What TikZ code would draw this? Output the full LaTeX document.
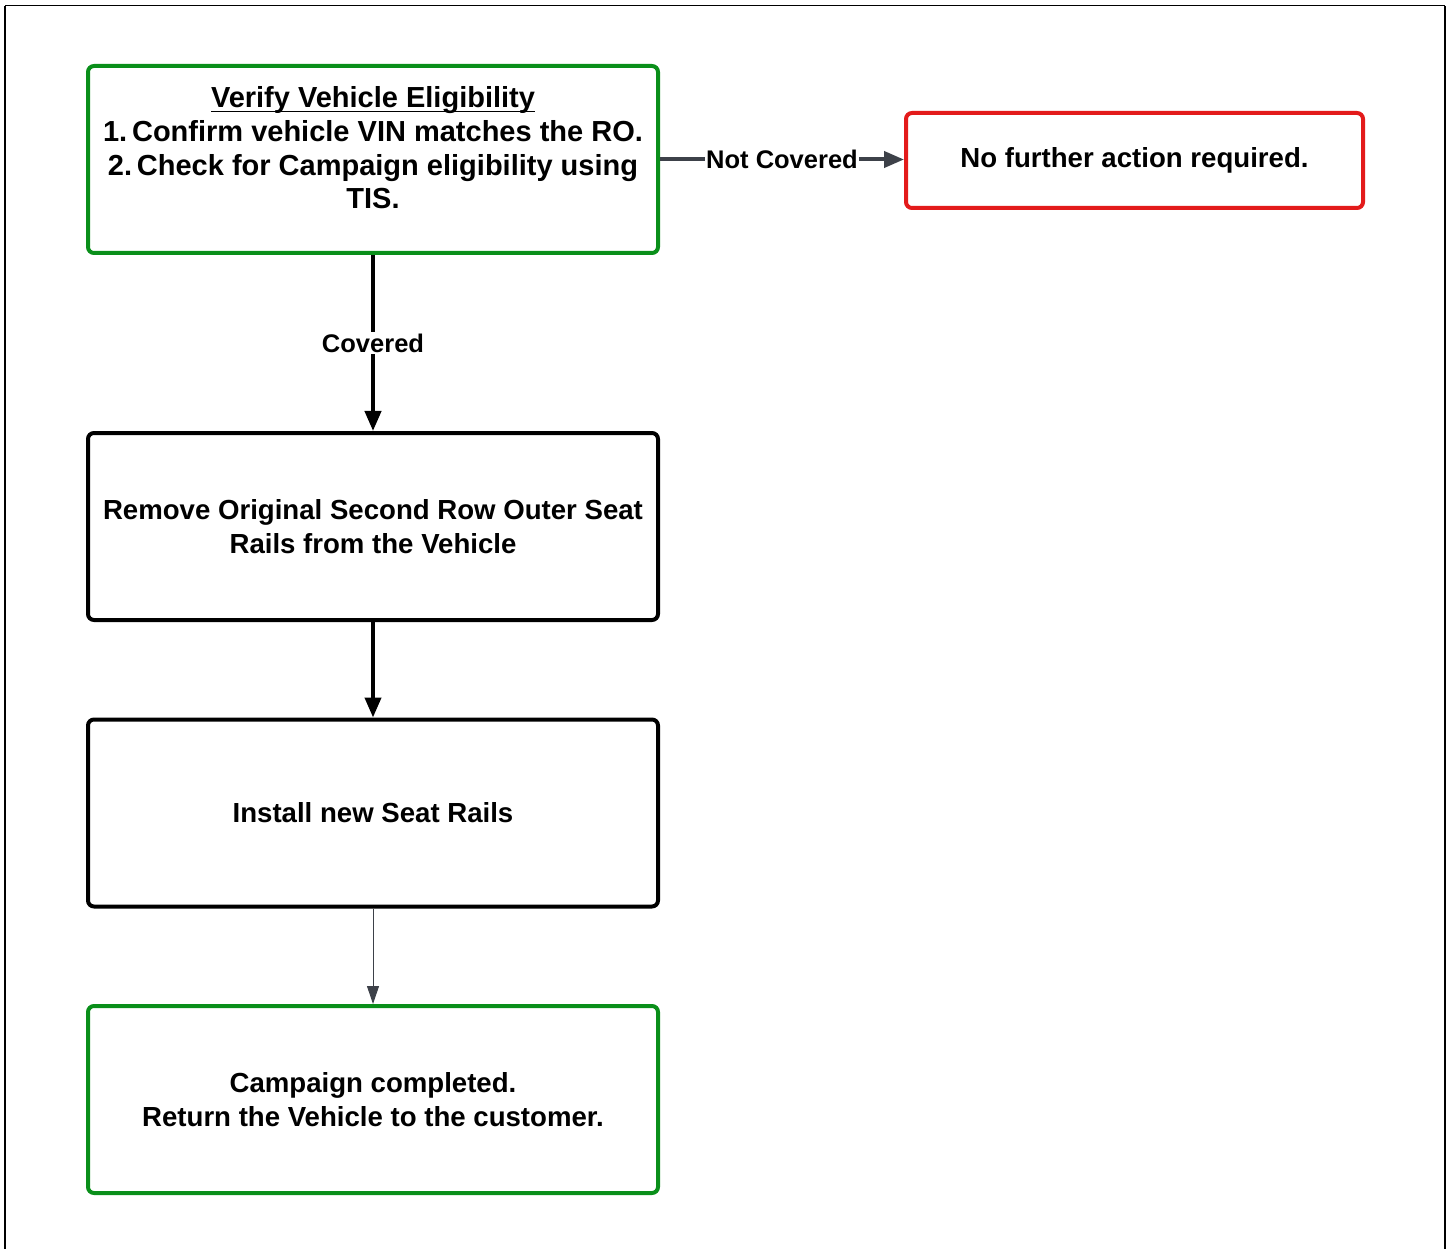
\documentclass[tikz,border=0pt]{standalone}
\usepackage{fontspec}
\setmainfont{Liberation Sans}
\usetikzlibrary{arrows.meta}
\definecolor{boxgreen}{HTML}{0A8F1A}
\definecolor{boxred}{HTML}{E31B1B}
\definecolor{arrgray}{HTML}{3D4149}
\newcommand{\myul}[1]{\setbox0\hbox{#1}\rlap{\raisebox{-4.5pt}{\rule{\wd0}{1.8pt}}}\box0}
\tikzset{
  box/.style={draw, line width=4pt, rounded corners=6pt, minimum width=570pt, minimum height=187pt, inner sep=0pt, align=center, font=\bfseries\fontsize{27.6}{34}\selectfont},
  greenbox/.style={box, draw=boxgreen},
  blackbox/.style={box, draw=black},
  redbox/.style={box, draw=boxred, minimum width=457pt, minimum height=95pt},
  thickarr/.style={line width=4pt, -{Triangle[length=20pt,width=16pt]}},
  thinarr/.style={line width=1pt, draw=arrgray, -{Triangle[length=18pt,width=12pt,fill=arrgray]}},
  lbl/.style={fill=white, inner sep=2pt, font=\bfseries\fontsize{25.5}{28}\selectfont},
}
\begin{document}
\begin{tikzpicture}[x=1pt,y=-1pt]
\useasboundingbox (0,0) rectangle (1452,1249);
\draw[line width=1pt] (5,6) -- (1445,6);
\draw[line width=2pt] (5,6) -- (5,1249);
\draw[line width=2.5pt] (1445,6) -- (1445,1249);

\node[greenbox] (b1) at (373,159.5) {};
\node[font=\bfseries\fontsize{29}{33.7}\selectfont, align=center, inner sep=0pt] (t1) at (373,148)
  {\myul{Verify Vehicle Eligibility}\\1.\,Confirm vehicle VIN matches the RO.\\2.\,Check for Campaign eligibility using\\TIS.};
\node[redbox] (b2) at (1134.5,160.5) {No further action required.};
\node[blackbox] (b3) at (373,526.5) {Remove Original Second Row Outer Seat\\Rails from the Vehicle};
\node[blackbox] (b4) at (373,813) {Install new Seat Rails};
\node[greenbox] (b5) at (373,1099.5) {Campaign completed.\\Return the Vehicle to the customer.};

\draw[thickarr] (b1.south) -- node[lbl] (c1) {Covered} (b3.north);
\draw[thickarr] (b3.south) -- (b4.north);
\draw[thinarr] (b4.south) -- (b5.north);
\draw[thickarr, draw=arrgray, -{Triangle[length=20pt,width=16pt,fill=arrgray]}] (b1.east) -- node[lbl, inner xsep=1pt] (c2) {Not Covered} (b2.west |- b1.east);
\end{tikzpicture}
\end{document}
